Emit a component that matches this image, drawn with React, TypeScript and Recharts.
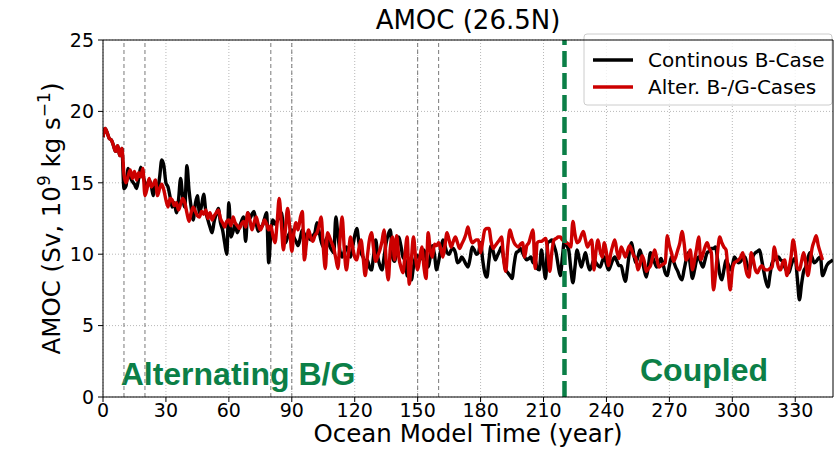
import { LineChart, Line, XAxis, YAxis, CartesianGrid, ReferenceLine } from "recharts";

// AMOC at 26.5N, one value per model year (index = year)
const continuousB = [
  18.2, 18.8, 18.5, 18.1, 18.0, 17.6, 17.2, 17.6, 16.9, 17.4,
  14.6, 14.8, 16.0, 15.4, 15.1, 14.9, 14.6, 15.3, 16.1, 15.5,
  15.0, 14.7, 15.2, 14.8, 14.1, 15.0, 14.5, 15.4, 16.6, 16.2,
  15.0, 14.7, 14.0, 13.3, 13.6, 12.9, 13.8, 15.3, 14.0, 13.3,
  16.2, 14.5, 13.3, 12.4, 13.5, 14.1, 12.9, 13.4, 14.2, 13.0,
  12.4, 11.9, 11.5, 12.3, 12.8, 13.2, 12.2, 11.7, 10.8, 10.0,
  13.6, 11.2, 11.6, 12.1, 11.5, 11.9, 12.3, 12.6, 10.9, 12.9,
  12.5, 12.8, 13.0, 12.2, 11.6, 11.9, 12.0, 12.5, 12.9, 9.4,
  11.5, 12.4, 12.1, 12.3, 12.6, 12.9, 11.9, 10.8, 11.2, 11.5,
  11.7, 11.2, 10.9, 10.6, 11.1, 11.7, 11.4, 11.0, 11.2, 11.0,
  11.3, 11.5, 12.2, 11.6, 10.9, 10.5, 10.9, 11.2, 10.6, 10.3,
  10.1, 12.6, 11.3, 10.2, 9.8, 10.2, 10.5, 10.1, 9.8, 10.5,
  11.3, 11.8, 10.8, 10.1, 9.8, 9.4, 9.6, 9.1, 8.9, 9.9,
  11.0, 9.8, 9.2, 8.9, 9.8, 10.8, 11.4, 11.7, 9.8, 9.5,
  10.4, 11.2, 10.6, 9.8, 9.6, 8.5, 8.4, 8.2, 9.1, 9.8,
  9.9, 9.6, 10.0, 10.3, 9.7, 9.1, 9.8, 10.6, 10.0, 8.9,
  9.5, 10.3, 11.0, 10.6, 10.1, 10.0, 10.3, 10.4, 10.1, 9.4,
  9.5, 9.8, 9.6, 9.3, 9.1, 9.7, 10.5, 10.3, 10.0, 10.1,
  10.8, 9.6, 8.7, 8.4, 9.6, 10.6, 10.2, 9.6, 9.9, 10.2,
  10.5, 9.7, 8.9, 8.7, 8.5, 8.3, 9.3, 10.1, 10.2, 10.4,
  10.1, 9.8, 9.6, 9.7, 9.8, 9.4, 9.6, 9.0, 8.9, 10.3,
  9.2, 8.3, 10.8, 10.9, 11.0, 10.6, 10.1, 9.2, 8.5, 9.8,
  11.0, 10.6, 10.3, 9.0, 8.0, 9.1, 10.3, 9.7, 9.1, 9.6,
  10.1, 9.4, 8.9, 9.2, 9.6, 9.4, 9.2, 9.1, 9.5, 9.8,
  9.3, 8.9, 9.2, 9.6, 9.8, 9.5, 9.2, 9.2, 8.6, 8.1,
  9.0, 10.2, 10.8, 10.0, 9.4, 9.8, 10.3, 9.7, 8.9, 8.4,
  9.2, 10.1, 9.8, 9.4, 9.1, 9.4, 9.7, 9.3, 8.7, 8.5,
  9.2, 9.8, 9.5, 9.1, 8.8, 8.4, 8.2, 8.9, 9.6, 10.1,
  9.2, 8.3, 8.9, 9.6, 9.8, 9.4, 9.1, 9.6, 10.1, 10.2,
  10.4, 10.4, 10.5, 9.6, 8.6, 8.2, 8.9, 9.6, 9.3, 8.9,
  9.2, 9.8, 9.6, 9.4, 9.5, 9.7, 9.8, 9.3, 8.9, 9.4,
  9.9, 10.1, 10.2, 10.3, 9.6, 8.8, 8.1, 7.7, 8.6, 9.4,
  9.6, 9.7, 9.8, 9.6, 9.5, 9.1, 8.8, 8.7, 9.2, 9.6,
  9.7, 8.3, 6.8, 7.9, 8.8, 9.1, 9.7, 10.1, 9.8, 9.4,
  9.5, 9.7, 9.8, 8.5, 8.8, 9.2, 9.4, 9.5, 9.6,
];

const alternatingBG = [
  18.2, 18.8, 18.5, 18.1, 18.0, 17.6, 17.2, 17.6, 16.9, 17.4,
  15.6, 15.0, 15.5, 15.9, 15.3, 15.8, 15.2, 15.7, 15.4, 16.0,
  14.1, 14.6, 15.3, 14.7, 14.9, 15.2, 14.1, 14.6, 14.9, 14.5,
  13.8, 13.3, 13.9, 13.8, 13.4, 13.6, 13.1, 13.5, 13.9, 13.6,
  12.9, 12.3, 12.9, 13.3, 13.0, 12.7, 12.6, 13.0, 12.8, 13.1,
  12.5, 12.9, 12.4, 12.7, 12.9, 13.1, 12.5, 12.2, 11.9, 12.3,
  12.4, 12.0, 12.6, 12.2, 12.0, 11.8, 12.1, 12.3, 11.9, 12.9,
  12.4, 11.7, 12.2, 12.6, 12.1, 11.7, 12.0, 12.4, 12.1, 11.7,
  12.0, 11.3, 10.8, 12.2, 13.9, 12.2, 10.3, 11.8, 13.2, 11.9,
  10.2, 11.5, 12.2, 11.7, 12.5, 13.0, 9.6, 10.8, 11.7, 11.2,
  10.9, 11.3, 11.5, 12.0, 12.6, 10.5, 9.0, 11.5, 11.2, 10.8,
  10.4, 9.7, 9.0, 11.1, 12.6, 10.4, 8.9, 10.0, 11.2, 10.5,
  9.8, 9.6, 10.4, 11.0, 9.8, 8.5, 9.8, 11.0, 11.5, 10.4,
  9.5, 9.9, 10.3, 10.9, 11.7, 9.5, 8.2, 10.5, 11.2, 9.6,
  11.3, 9.8, 9.1, 8.7, 10.0, 11.2, 7.9, 9.6, 11.2, 9.8,
  8.9, 9.7, 10.5, 9.1, 8.3, 11.5, 10.3, 9.8, 10.7, 10.6,
  10.8, 10.4, 9.8, 10.6, 11.5, 11.0, 10.5, 10.9, 11.2, 10.8,
  10.4, 10.7, 11.0, 11.4, 11.9, 11.2, 10.8, 10.9, 11.0, 11.0,
  10.1, 10.9, 11.7, 11.8, 11.8, 10.9, 10.4, 10.6, 10.8, 11.0,
  11.2, 9.6, 8.8, 10.6, 11.7, 11.2, 10.8, 10.6, 10.5, 10.7,
  10.8, 9.8, 10.6, 10.8, 11.3, 11.7, 9.0, 10.8, 10.9, 10.9,
  11.0, 11.1, 10.2, 8.8, 10.2, 11.0, 11.1, 11.2, 11.2, 11.0,
  10.9, 10.8, 10.7, 10.5, 12.3, 11.4, 10.8, 10.9, 11.3, 11.6,
  11.0, 10.5, 10.8, 11.0, 8.9, 10.2, 11.0, 10.2, 9.8, 10.8,
  10.1, 9.2, 10.0, 10.6, 11.0, 10.2, 9.7, 10.5, 10.2, 9.8,
  10.2, 10.6, 10.3, 9.9, 9.7, 8.9, 9.3, 9.9, 9.5, 8.8,
  9.0, 9.2, 9.8, 10.3, 9.7, 9.1, 9.2, 9.3, 9.4, 11.3,
  10.6, 10.1, 9.5, 9.8, 10.3, 10.8, 11.6, 10.8, 9.6, 9.9,
  10.3, 8.9, 9.6, 10.4, 11.2, 9.6, 10.0, 10.5, 10.8, 10.4,
  10.1, 7.5, 8.6, 10.2, 11.2, 10.8, 10.5, 10.3, 8.8, 7.5,
  8.9, 9.4, 9.5, 9.6, 9.8, 10.1, 9.3, 8.6, 8.4, 10.1,
  9.6, 8.9, 8.7, 9.0, 9.2, 9.0, 8.9, 8.9, 9.0, 9.1,
  10.5, 9.8, 9.1, 8.9, 9.4, 9.6, 8.5, 9.0, 9.8, 11.0,
  10.2, 9.0, 8.9, 9.5, 10.1, 9.4, 8.5, 9.3, 10.4, 10.9,
  11.3, 10.6, 10.1, 9.6,
];

const xTicks = [0, 30, 60, 90, 120, 150, 180, 210, 240, 270, 300, 330];
const yTicks = [0, 5, 10, 15, 20, 25];
const phaseMarks = [10, 20, 80, 90, 150, 160];
const coupledStart = 220;
const xMax = 348;

const data = continuousB.map((v, i) => ({
  year: i,
  black: v,
  red: i < alternatingBG.length ? alternatingBG[i] : null,
}));

const FONT = "DejaVu Sans, sans-serif";
const BOLD = "Liberation Sans, Arial, sans-serif";
const GREEN = "#0b7f47";
const RED = "#cc0000";
const tick = { fill: "#000", fontSize: 19, fontFamily: FONT };

function YLabel({ viewBox }: any) {
  const cy = viewBox.y + viewBox.height / 2;
  return (
    <text transform={`translate(60, ${cy}) rotate(-90)`} textAnchor="middle" fontSize={24.5} fontFamily={FONT} fill="#000">
      AMOC (Sv, 10<tspan baselineShift="super" fontSize={17}>9</tspan> kg s<tspan baselineShift="super" fontSize={17}>−1</tspan>)
    </text>
  );
}

export default function App() {
  return (
    <div style={{ position: "absolute", left: 0, top: 0, width: 836, height: 453, background: "#fff" }}>
      <LineChart width={836} height={453} data={data} margin={{ top: 40, right: 3, bottom: 26, left: 0 }}>
        <CartesianGrid stroke="#b8b8b8" strokeDasharray="1 2" verticalValues={xTicks} horizontalValues={yTicks} />
        <XAxis dataKey="year" type="number" domain={[0, xMax]} ticks={xTicks} interval={0} height={30}
          tick={tick} tickSize={5} tickMargin={2} stroke="#000" allowDataOverflow
          label={{ value: "Ocean Model Time (year)", position: "bottom", offset: -2, fontSize: 24.5, fontFamily: FONT, fill: "#000" }} />
        <YAxis type="number" domain={[0, 25]} ticks={yTicks} interval={0} width={103}
          tick={tick} tickSize={5} tickMargin={4} stroke="#000" label={<YLabel />} />
        {phaseMarks.map((x) => (
          <ReferenceLine key={x} x={x} stroke="#7a7a7a" strokeDasharray="4 3" strokeWidth={1} />
        ))}
        <Line type="monotone" dataKey="black" name="Continous B-Case" stroke="#000" strokeWidth={3.4} dot={false} isAnimationActive={false} />
        <Line type="monotone" dataKey="red" name="Alter. B-/G-Cases" stroke={RED} strokeWidth={3.4} dot={false} isAnimationActive={false} connectNulls={false} />
        <ReferenceLine x={coupledStart} stroke={GREEN} strokeWidth={4.5} strokeDasharray="16 6" />
        <ReferenceLine y={25} stroke="#000" strokeWidth={1} />
        <ReferenceLine x={xMax} stroke="#000" strokeWidth={1} />
        <text x={468} y={29} textAnchor="middle" fontSize={26} fontFamily={FONT} fill="#000">AMOC (26.5N)</text>
        <g>
          <rect x={584} y={34} width={248} height={71} rx={3} fill="#fff" fillOpacity={0.8} stroke="#cccccc" />
          <line x1={593} x2={633} y1={60} y2={60} stroke="#000" strokeWidth={3.4} />
          <line x1={593} x2={633} y1={87} y2={87} stroke={RED} strokeWidth={3.4} />
          <text x={648} y={67} fontSize={20} fontFamily={FONT} fill="#000">Continous B-Case</text>
          <text x={648} y={94} fontSize={20} fontFamily={FONT} fill="#000">Alter. B-/G-Cases</text>
        </g>
        <text x={238} y={385} textAnchor="middle" fontSize={32} fontWeight="bold" fontFamily={BOLD} fill={GREEN}>Alternating B/G</text>
        <text x={704} y={381} textAnchor="middle" fontSize={32} fontWeight="bold" fontFamily={BOLD} fill={GREEN}>Coupled</text>
      </LineChart>
    </div>
  );
}
